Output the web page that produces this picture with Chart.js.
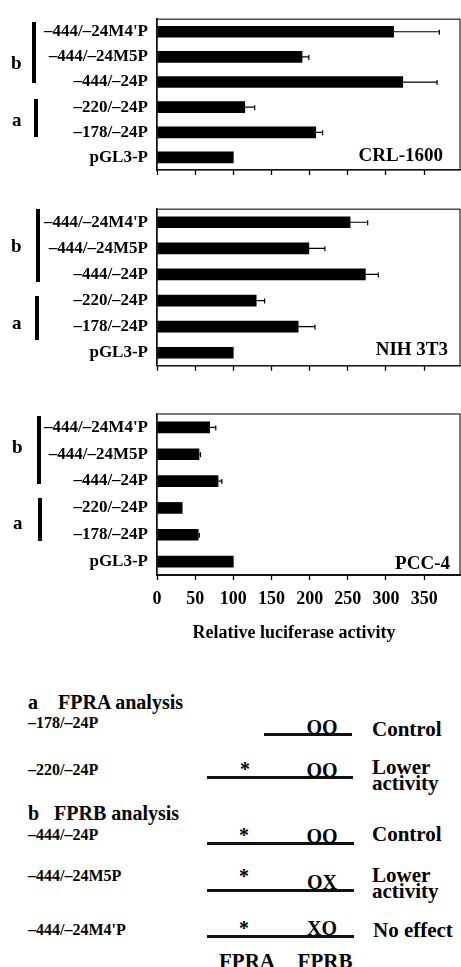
<!DOCTYPE html>
<html>
<head>
<meta charset="utf-8">
<script src="https://cdn.jsdelivr.net/npm/chart.js@4.4.1/dist/chart.umd.min.js"></script>
<style>
  body { margin: 0; background: #fff; width: 461px; height: 967px; overflow: hidden; position: relative;
         font-family: "Liberation Serif", "Times New Roman", serif; font-weight: bold; color: #000; }
  canvas { position: absolute; left: 0; }
  .t { position: absolute; white-space: nowrap; line-height: 1; }
  .c { transform: translateX(-50%); }
  .vbar { position: absolute; background: #000; width: 4px; }
  .ln { position: absolute; height: 3px; background: #111; }
</style>
</head>
<body>

<!-- luciferase panels -->
<canvas id="crlChart" width="461" height="190" style="top:0"></canvas>
<canvas id="nihChart" width="461" height="195" style="top:190px"></canvas>
<canvas id="pccChart" width="461" height="235" style="top:390px"></canvas>

<!-- a / b brackets -->
<div class="t" style="left:11px;top:53px;font-size:19px">b</div>
<div class="vbar" style="left:32px;top:22px;height:61px"></div>
<div class="t" style="left:12px;top:110px;font-size:19px">a</div>
<div class="vbar" style="left:34px;top:99px;height:38px"></div>

<div class="t" style="left:11px;top:236px;font-size:19px">b</div>
<div class="vbar" style="left:36px;top:209px;height:73px"></div>
<div class="t" style="left:12px;top:313px;font-size:19px">a</div>
<div class="vbar" style="left:35px;top:296px;height:44px"></div>

<div class="t" style="left:12px;top:437px;font-size:19px">b</div>
<div class="vbar" style="left:37px;top:416px;height:68px"></div>
<div class="t" style="left:13px;top:513px;font-size:19px">a</div>
<div class="vbar" style="left:38px;top:498px;height:43px"></div>

<!-- cell line names -->
<div class="t" style="right:18px;top:145px;font-size:19px">CRL-1600</div>
<div class="t" style="right:13px;top:339px;font-size:19px">NIH 3T3</div>
<div class="t" style="right:11px;top:553px;font-size:19px">PCC-4</div>

<div class="t c" style="left:294px;top:623px;font-size:18px">Relative luciferase activity</div>

<!-- FPRA / FPRB analysis -->
<div class="t" style="left:28px;top:692px;font-size:20px">a&nbsp;&nbsp;&nbsp;&nbsp;FPRA analysis</div>
<div class="t" style="left:28px;top:715px;font-size:16px">–178/–24P</div>
<div class="ln" style="left:264px;top:733px;width:88px"></div>
<div class="t c" style="left:322px;top:717px;font-size:20px">OO</div>
<div class="t" style="left:372px;top:719px;font-size:21px">Control</div>

<div class="t" style="left:28px;top:762px;font-size:16px">–220/–24P</div>
<div class="ln" style="left:207px;top:776px;width:146px"></div>
<div class="t c" style="left:245px;top:759px;font-size:20px">*</div>
<div class="t c" style="left:322px;top:760px;font-size:20px">OO</div>
<div class="t" style="left:372px;top:759px;font-size:21px;line-height:16px">Lower<br>activity</div>

<div class="t" style="left:28px;top:803px;font-size:20px">b&nbsp;&nbsp;&nbsp;FPRB analysis</div>
<div class="t" style="left:28px;top:827px;font-size:16px">–444/–24P</div>
<div class="ln" style="left:207px;top:842px;width:147px"></div>
<div class="t c" style="left:244px;top:825px;font-size:20px">*</div>
<div class="t c" style="left:322px;top:826px;font-size:20px">OO</div>
<div class="t" style="left:372px;top:824px;font-size:21px">Control</div>

<div class="t" style="left:28px;top:868px;font-size:16px">–444/–24M5P</div>
<div class="ln" style="left:207px;top:889px;width:147px"></div>
<div class="t c" style="left:244px;top:866px;font-size:20px">*</div>
<div class="t c" style="left:322px;top:872px;font-size:20px">OX</div>
<div class="t" style="left:372px;top:867px;font-size:21px;line-height:16px">Lower<br>activity</div>

<div class="t" style="left:28px;top:922px;font-size:16px">–444/–24M4'P</div>
<div class="ln" style="left:207px;top:935px;width:147px"></div>
<div class="t c" style="left:244px;top:918px;font-size:20px">*</div>
<div class="t c" style="left:322px;top:918px;font-size:20px">XO</div>
<div class="t" style="left:373px;top:920px;font-size:21px">No effect</div>

<div class="t c" style="left:247px;top:951px;font-size:21px">FPRA</div>
<div class="t c" style="left:325px;top:951px;font-size:21px">FPRB</div>

<script>
// constructs, top to bottom
const constructs = ["–444/–24M4'P", "–444/–24M5P", "–444/–24P", "–220/–24P", "–178/–24P", "pGL3-P"];

// relative luciferase activity (pGL3-P = 100) and error bars
const crlValues = [310, 190, 322, 115, 208, 100];
const crlErrors = [60, 9, 45, 13, 9, 0];
const nihValues = [253, 199, 273, 130, 185, 100];
const nihErrors = [23, 21, 17, 11, 22, 0];
const pccValues = [69, 55, 80, 33, 54, 100];
const pccErrors = [8, 2, 5, 0, 1.5, 0];

const tickValues = [0, 50, 100, 150, 200, 250, 300, 350];
const xMax = 397;

const SERIF = '"Liberation Serif", "Times New Roman", serif';

function makeChart(id, values, errors, padTop, axisHeight, showTickLabels, axisWidth) {
  // draw the +error whiskers from the bar end
  const errorBars = {
    id: 'errorBars',
    afterDatasetsDraw(chart) {
      const ctx = chart.ctx;
      const xs = chart.scales.x;
      const bars = chart.getDatasetMeta(0).data;
      ctx.save();
      ctx.strokeStyle = '#000';
      ctx.lineWidth = 1.2;
      bars.forEach((bar, i) => {
        if (!errors[i]) return;
        const x1 = xs.getPixelForValue(values[i] + errors[i]);
        ctx.beginPath();
        ctx.moveTo(bar.x, bar.y);
        ctx.lineTo(x1, bar.y);
        ctx.moveTo(x1, bar.y - 2);
        ctx.lineTo(x1, bar.y + 3);
        ctx.stroke();
      });
      ctx.restore();
    }
  };
  // frame round the plot area
  const frame = {
    id: 'frame',
    afterDraw(chart) {
      const a = chart.chartArea;
      const ctx = chart.ctx;
      ctx.save();
      ctx.strokeStyle = '#222';
      ctx.lineWidth = 1.2;
      ctx.strokeRect(a.left, a.top, a.right - a.left, a.bottom - a.top);
      ctx.restore();
    }
  };

  return new Chart(document.getElementById(id), {
    type: 'bar',
    data: {
      labels: constructs,
      datasets: [{ data: values, backgroundColor: '#000', barThickness: 11, borderWidth: 0 }]
    },
    options: {
      indexAxis: 'y',
      responsive: false,
      animation: false,
      layout: { padding: { top: padTop, right: 1, left: 0, bottom: 0 } },
      plugins: { legend: { display: false }, tooltip: { enabled: false } },
      scales: {
        x: {
          min: 0, max: xMax,
          afterBuildTicks: s => { s.ticks = tickValues.map(v => ({ value: v })); },
          afterFit: s => { s.height = axisHeight; },
          grid: { drawOnChartArea: false, tickLength: 5, tickColor: '#000', tickWidth: 1.3 },
          border: { color: '#000', width: showTickLabels ? 2 : 1.3 },
          ticks: {
            display: showTickLabels, color: '#000', padding: 9,
            font: { family: SERIF, size: 18, weight: 'bold' }
          }
        },
        y: {
          afterFit: s => { s.width = axisWidth; },
          grid: { display: false, drawTicks: false },
          border: { color: '#000', width: 1.5 },
          ticks: { color: '#000', padding: 9, font: { family: SERIF, size: 17, weight: 'bold' } }
        }
      }
    },
    plugins: [errorBars, frame]
  });
}

makeChart('crlChart', crlValues, crlErrors, 12, 20, false, 157);
makeChart('nihChart', nihValues, nihErrors, 15, 19, false, 157);
makeChart('pccChart', pccValues, pccErrors, 24, 50, true, 157);
</script>
</body>
</html>
